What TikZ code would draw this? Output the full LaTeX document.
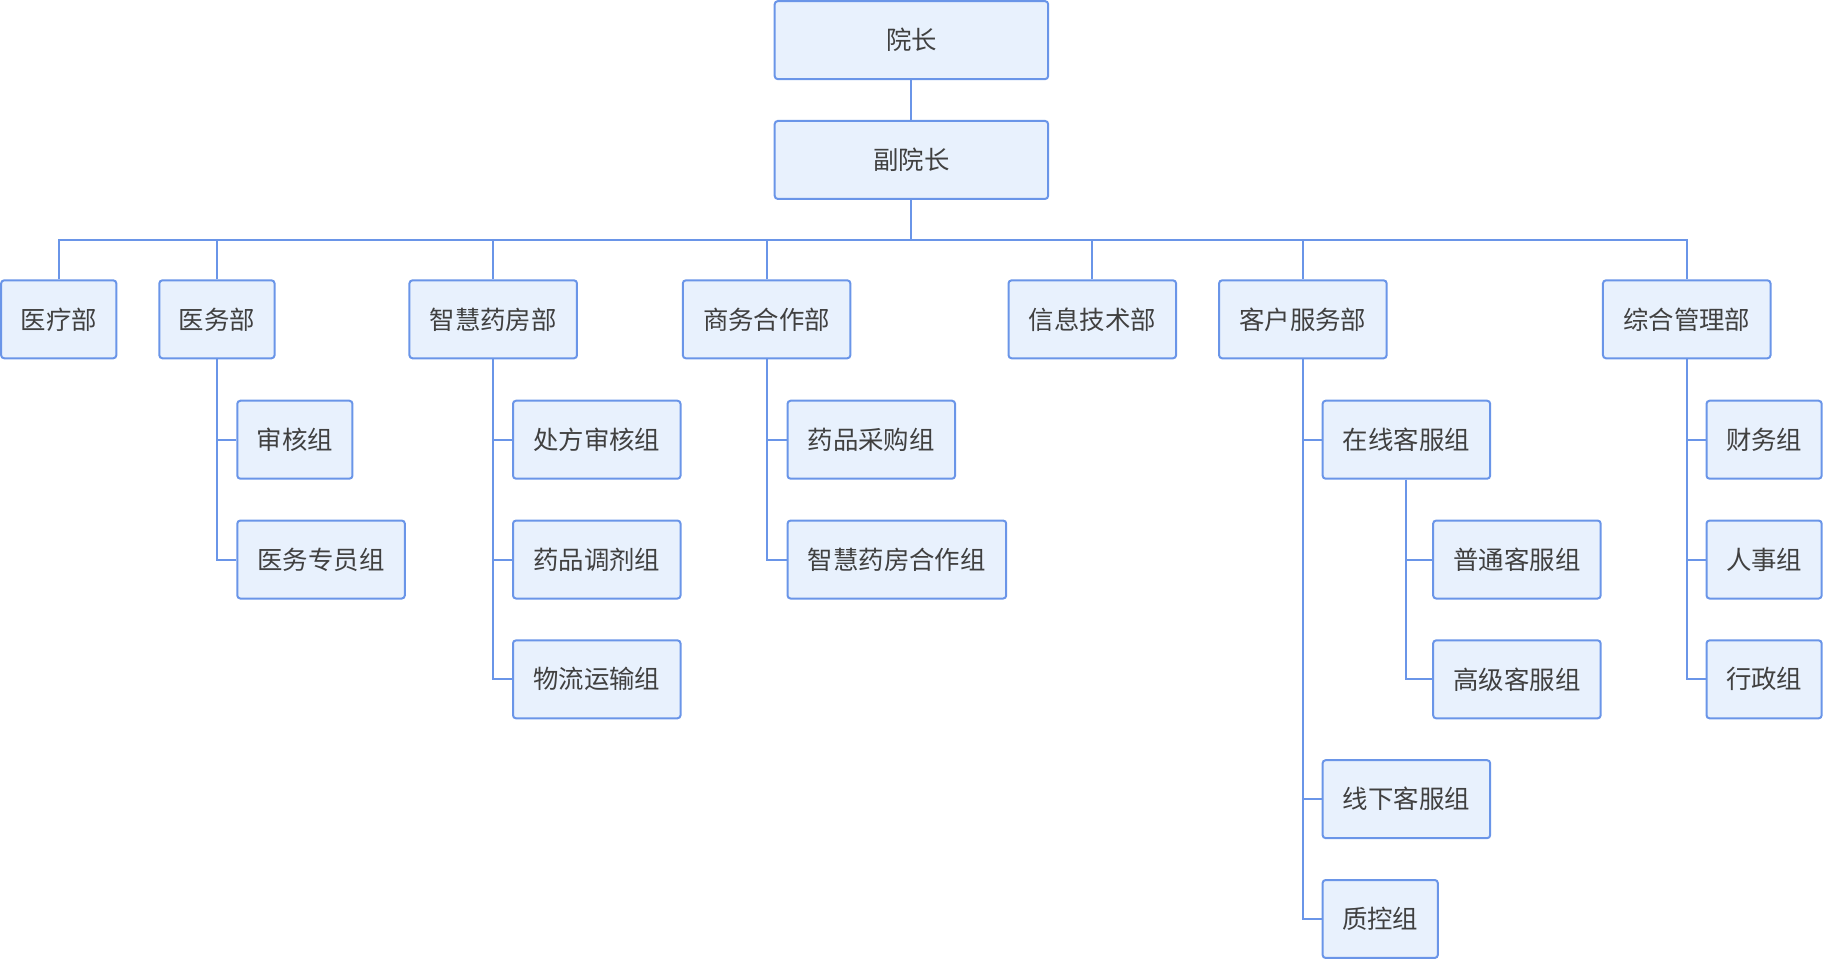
\documentclass[tikz,border=0pt]{standalone}
\usepackage{fontspec}
\newfontfamily\cjk{Noto Sans CJK SC}
\definecolor{bordc}{HTML}{6A95E8}
\definecolor{fillc}{HTML}{E8F1FD}
\definecolor{txtc}{HTML}{404040}
\begin{document}
\begin{tikzpicture}[x=0.5816pt,y=-0.5816pt,
  box/.style={draw=bordc,fill=fillc,line width=1pt,rounded corners=1.5pt,
    minimum height=67*0.5816pt,inner sep=0pt,text=txtc,
    font=\cjk\fontsize{12.7pt}{14pt}\selectfont},
  w3/.style={box,minimum width=99*0.5816pt},
  w5/.style={box,minimum width=144*0.5816pt},
  w7/.style={box,minimum width=188*0.5816pt},
  wtop/.style={box,minimum width=235*0.5816pt},
  link/.style={draw=bordc,line width=1pt}]
\useasboundingbox (0,0) rectangle (1568,825.26);
% top
\node[wtop] (yz) at (783.5,34.5) {院长};
\node[wtop] (fyz) at (783.5,137.5) {副院长};
% departments
\node[w3] (d1) at (50.5,274.5) {医疗部};
\node[w3] (d2) at (186.5,274.5) {医务部};
\node[w5] (d3) at (424,274.5) {智慧药房部};
\node[w5] (d4) at (659,274.5) {商务合作部};
\node[w5] (d5) at (939,274.5) {信息技术部};
\node[w5] (d6) at (1120,274.5) {客户服务部};
\node[w5] (d7) at (1450,274.5) {综合管理部};
% groups
\node[w3] (g21) at (253.5,378) {审核组};
\node[w5] (g22) at (276,481) {医务专员组};
\node[w5] (g31) at (513,378) {处方审核组};
\node[w5] (g32) at (513,481) {药品调剂组};
\node[w5] (g33) at (513,584) {物流运输组};
\node[w5] (g41) at (749,378) {药品采购组};
\node[w7] (g42) at (771,481) {智慧药房合作组};
\node[w5] (g61) at (1209,378) {在线客服组};
\node[w5] (g611) at (1304,481) {普通客服组};
\node[w5] (g612) at (1304,584) {高级客服组};
\node[w5] (g62) at (1209,687) {线下客服组};
\node[w3] (g63) at (1186.5,790) {质控组};
\node[w3] (g71) at (1516.5,378) {财务组};
\node[w3] (g72) at (1516.5,481) {人事组};
\node[w3] (g73) at (1516.5,584) {行政组};
% connectors
\coordinate (bus) at (0,206);
\draw[link] (yz.south) -- (fyz.north);
\draw[link] (fyz.south) -- (fyz.south |- bus);
\draw[link] (d1.north) -- (d1.north |- bus) -| (d7.north);
\foreach \d in {d2,d3,d4,d5,d6} {\draw[link] (\d.north) -- (\d.north |- bus);}
\draw[link] (d2.south) |- (g21.west);
\draw[link] (d2.south) |- (g22.west);
\draw[link] (d3.south) |- (g31.west);
\draw[link] (d3.south) |- (g32.west);
\draw[link] (d3.south) |- (g33.west);
\draw[link] (d4.south) |- (g41.west);
\draw[link] (d4.south) |- (g42.west);
\draw[link] (d6.south) |- (g61.west);
\draw[link] (d6.south) |- (g62.west);
\draw[link] (d6.south) |- (g63.west);
\draw[link] (g61.south) |- (g611.west);
\draw[link] (g61.south) |- (g612.west);
\draw[link] (d7.south) |- (g71.west);
\draw[link] (d7.south) |- (g72.west);
\draw[link] (d7.south) |- (g73.west);
\end{tikzpicture}
\end{document}
